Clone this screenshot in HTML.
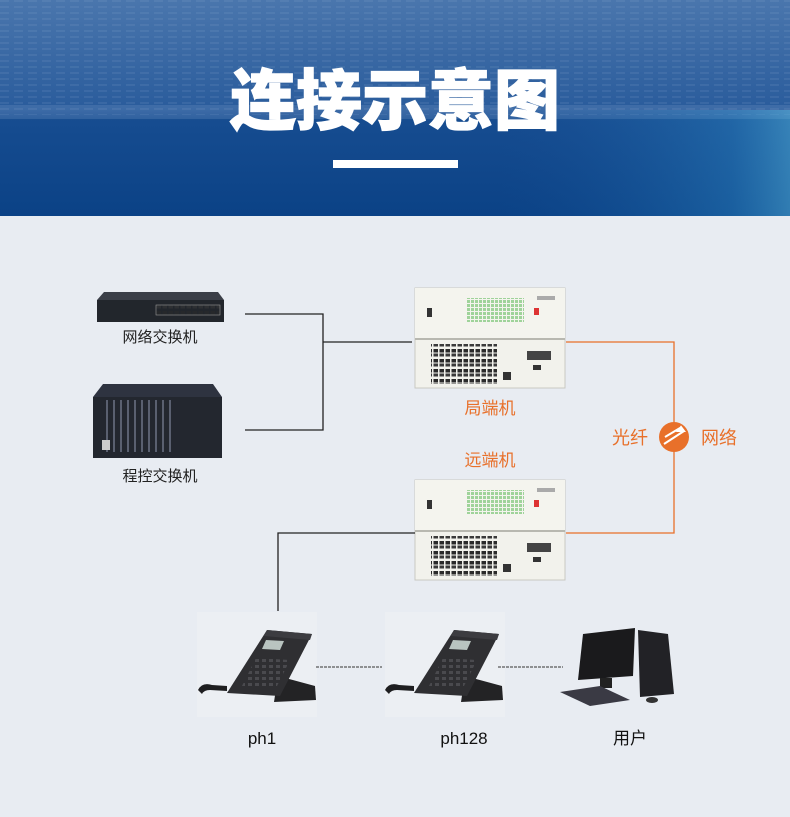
<!DOCTYPE html>
<html><head><meta charset="utf-8">
<style>
html,body{margin:0;padding:0;}
body{width:790px;height:817px;overflow:hidden;background:#e8ecf2;font-family:"Liberation Sans","Noto Sans CJK SC",sans-serif;}
</style></head>
<body>
<svg width="790" height="817" viewBox="0 0 790 817" xmlns="http://www.w3.org/2000/svg" style="display:block">
<defs>
<linearGradient id="hdr" x1="0" y1="0" x2="0" y2="1">
<stop offset="0" stop-color="#4a76ad"/>
<stop offset="0.5" stop-color="#2a5c9c"/>
<stop offset="0.56" stop-color="#164c90"/>
<stop offset="1" stop-color="#0b4286"/>
</linearGradient>
<linearGradient id="glow" x1="0" y1="0" x2="1" y2="0">
<stop offset="0" stop-color="#1f5aa0" stop-opacity="0"/>
<stop offset="0.8" stop-color="#3aa0d8" stop-opacity="0.3"/>
<stop offset="1" stop-color="#5ec4e8" stop-opacity="0.45"/>
</linearGradient>
<pattern id="city" x="0" y="0" width="14" height="6" patternUnits="userSpaceOnUse">
<rect x="0" y="0" width="9" height="2" fill="#9cb8da" opacity="0.12"/>
</pattern>
<pattern id="ports" x="0" y="0" width="6" height="10" patternUnits="userSpaceOnUse">
<rect x="0.5" y="1" width="4.5" height="3.5" fill="#2a2a2a"/>
<rect x="0.5" y="5.5" width="4.5" height="3" fill="#3a3a3a"/>
</pattern>
<pattern id="keys" x="0" y="0" width="7" height="6" patternUnits="userSpaceOnUse">
<rect x="1" y="1" width="4" height="3" fill="#4a4a4e"/>
</pattern>
<pattern id="leds" x="0" y="0" width="4" height="4" patternUnits="userSpaceOnUse">
<rect x="0" y="0" width="3" height="3" fill="#9fd39a"/>
</pattern>
<g id="dev">
<rect x="0" y="0" width="150" height="100" fill="#f2f2ec" stroke="#c9c9c2"/>
<rect x="0" y="0" width="150" height="50" fill="#f4f4ee"/>
<line x1="0" y1="51" x2="150" y2="51" stroke="#b8b8b0" stroke-width="2"/>
<rect x="12" y="20" width="5" height="9" fill="#333"/>
<rect x="52" y="10" width="57" height="24" fill="url(#leds)"/>
<rect x="119" y="20" width="5" height="7" fill="#d33"/>
<rect x="122" y="8" width="18" height="4" fill="#aaa"/>
<rect x="16" y="56" width="66" height="40" fill="url(#ports)"/>
<rect x="88" y="84" width="8" height="8" fill="#333"/>
<rect x="112" y="63" width="24" height="9" fill="#444"/>
<rect x="118" y="77" width="8" height="5" fill="#333"/>
</g>
<g id="phone">
<path d="M80 48 L117 58 L118 72 L76 74 Z" fill="#232325"/>
<path d="M69 2 L114 6 L82 68 L29 65 Z" fill="#2f2f32"/>
<path d="M69 2 L114 6 L112 12 L66 8Z" fill="#3c3c40"/>
<path d="M68 12 L86 13 L82 22 L64 21Z" fill="#b9c4c0"/>
<path d="M58 30 L92 32 L78 60 L44 58Z" fill="url(#keys)"/>
<path d="M0 62 Q4 54 14 57 L29 58 L29 63 L12 62 Q6 62 4 66Z" fill="#1e1e20"/>
</g>
</defs>

<rect x="0" y="0" width="790" height="216" fill="url(#hdr)"/>
<rect x="0" y="0" width="790" height="115" fill="url(#city)"/>
<rect x="0" y="105" width="790" height="14" fill="#8fb0d6" opacity="0.2"/>
<rect x="500" y="110" width="290" height="106" fill="url(#glow)"/>
<text x="395" y="124" text-anchor="middle" font-size="66" font-weight="900" fill="#fff" stroke="#fff" stroke-width="1.2" font-family="'Noto Sans CJK SC',sans-serif">连接示意图</text>
<rect x="333" y="160" width="125" height="8" fill="#fff"/>

<path d="M104 292 L218 292 L224 300 L97 300Z" fill="#3b3f48"/>
<rect x="97" y="300" width="127" height="22" fill="#22262c"/>
<rect x="156" y="305" width="64" height="10" fill="url(#ports)" opacity="0.5"/>
<rect x="156" y="305" width="64" height="10" fill="none" stroke="#999" stroke-width="0.6"/>
<text x="160" y="342" text-anchor="middle" font-size="15" fill="#222">网络交换机</text>

<path d="M103 384 L213 384 L222 397 L93 397Z" fill="#2e3340"/>
<rect x="93" y="397" width="129" height="61" fill="#23272f"/>
<g fill="#5a6070">
<rect x="106" y="400" width="2" height="52"/><rect x="113" y="400" width="2" height="52"/><rect x="120" y="400" width="2" height="52"/><rect x="127" y="400" width="2" height="52"/><rect x="134" y="400" width="2" height="52"/><rect x="141" y="400" width="2" height="52"/><rect x="148" y="400" width="2" height="52"/><rect x="155" y="400" width="2" height="52"/><rect x="162" y="400" width="2" height="52"/><rect x="169" y="400" width="2" height="52"/>
</g>
<rect x="102" y="440" width="8" height="10" fill="#ccc"/>
<text x="160" y="481" text-anchor="middle" font-size="15" fill="#222">程控交换机</text>

<path d="M245 314 H323 V430 H245 M323 342 H412" fill="none" stroke="#222" stroke-width="1.3"/>

<use href="#dev" x="415" y="288"/>
<text x="490" y="414" text-anchor="middle" font-size="17" fill="#e8702a">局端机</text>
<text x="490" y="466" text-anchor="middle" font-size="17" fill="#e8702a">远端机</text>
<use href="#dev" x="415" y="480"/>

<path d="M566 342 H674 V533 H566" fill="none" stroke="#e8702a" stroke-width="1.3"/>
<circle cx="674" cy="437" r="15" fill="#e8702a"/>
<path d="M664 444 L684 431 M665 437 L680 428 M681 427 l3 4 l-6 0z" stroke="#fff" stroke-width="2" fill="#fff"/>
<text x="630" y="444" text-anchor="middle" font-size="18" fill="#e8702a">光纤</text>
<text x="719" y="444" text-anchor="middle" font-size="18" fill="#e8702a">网络</text>

<path d="M415 533 H278 V611" fill="none" stroke="#222" stroke-width="1.3"/>

<rect x="197" y="612" width="120" height="105" fill="#eceff3"/>
<rect x="385" y="612" width="120" height="105" fill="#eceff3"/>
<use href="#phone" x="198" y="628"/>
<use href="#phone" x="385" y="628"/>
<path d="M316 667 H382 M498 667 H563" stroke="#333" stroke-width="1" stroke-dasharray="3,1"/>

<path d="M583 634 L635 628 L633 676 L578 680Z" fill="#1a1a1c"/>
<rect x="600" y="678" width="12" height="10" fill="#222"/>
<path d="M638 630 L668 634 L674 694 L640 697Z" fill="#222226"/>
<path d="M560 692 L600 686 L630 700 L590 706Z" fill="#3a3a44"/>
<ellipse cx="652" cy="700" rx="6" ry="3" fill="#333"/>

<text x="262" y="744" text-anchor="middle" font-size="17" fill="#111">ph1</text>
<text x="464" y="744" text-anchor="middle" font-size="17" fill="#111">ph128</text>
<text x="630" y="744" text-anchor="middle" font-size="17" fill="#111">用户</text>
</svg>
</body></html>
